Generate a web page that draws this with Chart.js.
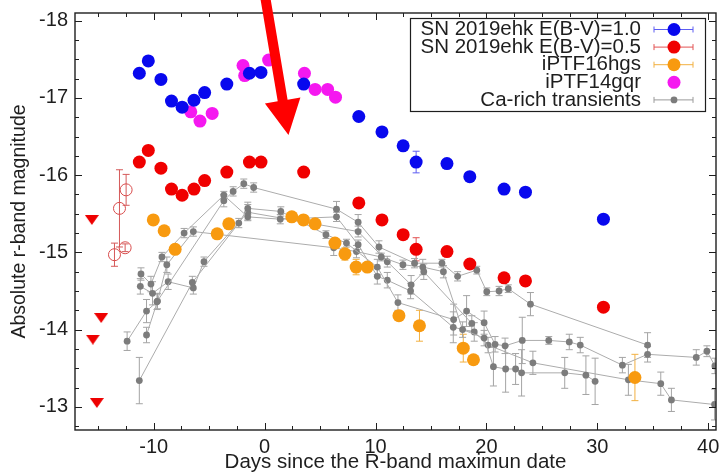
<!DOCTYPE html>
<html>
<head>
<meta charset="utf-8">
<script src="https://cdn.jsdelivr.net/npm/chart.js@4/dist/chart.umd.min.js"></script>
<style>
  html, body { margin: 0; background: #fff; }
</style>
</head>
<body>
<canvas id="lc" width="723" height="475"></canvas>
<script>
// ── SN 2019ehk (same epochs, two extinction corrections) ─────
const ehkDays  = [-11.30, -10.49, -9.35, -8.40, -7.44, -6.37, -5.41, -3.41, -1.37, -0.33, 3.52, 8.49, 10.58, 12.49, 13.66, 16.44, 18.50, 21.59, 23.52, 30.55];
const ehkMag10 = [-17.32, -17.48, -17.24, -16.96, -16.88, -16.97, -17.07, -17.18, -17.32, -17.33, -17.18, -16.76, -16.56, -16.38, -16.17, -16.15, -15.98, -15.82, -15.78, -15.43];
const ehkErr10 = [0, 0, 0, 0, 0, 0, 0, 0, 0, 0, 0, 0, 0, 0, 0.14, 0, 0, 0, 0, 0];
const ehkMag05 = [-16.17, -16.32, -16.09, -15.82, -15.74, -15.82, -15.93, -16.04, -16.17, -16.17, -16.04, -15.64, -15.42, -15.23, -15.04, -15.01, -14.85, -14.67, -14.63, -14.29];
const ehkErr05 = [0, 0, 0, 0, 0, 0, 0, 0, 0, 0, 0, 0, 0, 0, 0.15, 0, 0, 0, 0, 0];

// early detections (open) and non-detection limits
const earlyDays = [-13.09, -12.49, -13.54, -12.58];
const earlyMag  = [-15.57, -15.81, -14.97, -15.06];
const earlyErr  = [0.50, 0.20, 0.15, 0.05];
const limDays   = [-15.58, -14.74, -15.49, -15.13];
const limMag    = [-15.42, -14.15, -13.87, -13.05];

// ── comparison objects ───────────────────────────────────────
const hgsDays = [-10.04, -9.06, -8.07, -4.28, -3.23, 2.45, 3.50, 4.55, 6.34, 7.24, 8.25, 9.26, 12.11, 13.96, 17.91, 18.83, 33.39];
const hgsMag  = [-15.42, -15.28, -15.04, -15.24, -15.37, -15.46, -15.42, -15.37, -15.12, -14.98, -14.81, -14.81, -14.18, -14.05, -13.76, -13.61, -13.38];
const hgsErr  = [0.05, 0.05, 0.06, 0.05, 0.05, 0.05, 0.06, 0.05, 0.05, 0.08, 0.10, 0.05, 0.06, 0.20, 0.18, 0.05, 0.30];

const gqrDays = [-6.66, -5.83, -4.73, -1.95, -1.80, 0.36, 3.59, 4.55, 5.68, 6.39];
const gqrMag  = [-16.82, -16.70, -16.80, -17.42, -17.29, -17.49, -17.32, -17.11, -17.11, -17.01];

// ── Ca-rich transients, one light curve each ─────────────────
const caDays1 = [-12.40, -10.65, -9.71, -3.68, -2.84, -1.88, -0.99, 6.48, 8.43, 10.31, 13.52, 15.99, 17.40, 19.13, 20.03, 21.14, 21.97, 23.97, 34.53];
const caMag1  = [-13.85, -14.24, -14.36, -15.67, -15.79, -15.89, -15.84, -15.56, -15.39, -15.07, -14.86, -14.86, -14.69, -14.77, -14.49, -14.50, -14.53, -14.33, -13.80];
const caErr1  = [0.12, 0.15, 0.10, 0.08, 0.06, 0.06, 0.06, 0.10, 0.10, 0.08, 0.06, 0.05, 0.06, 0.05, 0.05, 0.06, 0.05, 0.15, 0.16];

const caDays2 = [-11.30, -6.52, -2.33, -1.52, 1.46, 5.53, 7.38, 10.16, 12.02, 17.04, 18.21, 19.79, 20.78, 21.68, 23.23, 25.62, 27.47, 28.46, 32.26, 34.53, 38.92, 39.88, 40.60];
const caMag2  = [-13.34, -14.61, -15.38, -15.57, -15.53, -15.23, -15.12, -14.81, -14.35, -14.13, -14.24, -14.09, -13.81, -13.79, -13.86, -13.86, -13.84, -13.80, -13.54, -13.68, -13.64, -13.72, -13.53];
const caErr2  = [0.30, 0.08, 0.06, 0.08, 0.06, 0.05, 0.05, 0.10, 0.10, 0.20, 0.20, 0.15, 0.10, 0.10, 0.30, 0.05, 0.10, 0.10, 0.10, 0.10, 0.10, 0.07, 0.10];

const caDays3 = [-10.65, -9.66, -8.82, -6.43, 6.23, 8.28, 10.52, 12.47, 14.26, 16.12, 17.85, 19.79, 20.63, 21.73, 22.63, 23.17, 27.06, 28.97, 29.80];
const caMag3  = [-13.93, -14.37, -14.84, -15.27, -15.06, -15.01, -14.94, -14.84, -14.81, -14.75, -14.00, -13.89, -13.52, -13.49, -13.49, -13.44, -13.44, -13.41, -13.33];
const caErr3  = [0.10, 0.10, 0.10, 0.06, 0.10, 0.08, 0.05, 0.06, 0.10, 0.08, 0.10, 0.10, 0.25, 0.30, 0.20, 0.30, 0.20, 0.25, 0.30];

const caDays4 = [-11.15, -10.25, -9.26, -7.26, -3.68, -1.52, 1.41, 6.48, 8.43, 10.16, 11.06, 13.16, 17.01, 18.90, 20.15, 24.19, 32.80, 35.72, 36.68, 40.57];
const caMag4  = [-14.72, -14.59, -14.94, -15.25, -15.74, -15.46, -15.43, -15.46, -15.10, -14.69, -14.64, -14.50, -14.03, -13.97, -13.80, -13.57, -13.35, -13.30, -13.09, -13.03];
const caErr4  = [0.08, 0.10, 0.06, 0.06, 0.05, 0.05, 0.06, 0.06, 0.06, 0.10, 0.10, 0.10, 0.20, 0.12, 0.10, 0.15, 0.20, 0.15, 0.15, 0.20];

const caDays5 = [-11.21, -10.11, -8.70, -6.43, -5.47, -1.52, 8.43, 11.06, 13.21, 14.35, 18.68];
const caMag5  = [-14.56, -14.47, -14.62, -14.54, -14.88, -15.52, -15.27, -14.88, -14.58, -14.75, -14.08];
const caErr5  = [0.10, 0.15, 0.10, 0.08, 0.06, 0.10, 0.07, 0.07, 0.12, 0.10, 0.10];

// annotation arrow, tail -> tip in data units
const arrowTail = { x: 0.06, y: -18.30 };
const arrowTip  = { x: 2.15, y: -16.52 };

const FONT = "'Liberation Sans', Arial, Helvetica, sans-serif";
const INK = '#1e1e1e';
Chart.defaults.font.family = FONT;
Chart.defaults.color = INK;

const pts = (xs, ys) => xs.map((x, i) => ({ x, y: ys[i] }));

// flat down-pointing triangle for upper limits
function triMark(w, h, col) {
  const c = document.createElement('canvas');
  c.width = w; c.height = h;
  const g = c.getContext('2d');
  g.fillStyle = col;
  g.beginPath(); g.moveTo(0, 0); g.lineTo(w, 0); g.lineTo(w / 2, h); g.closePath(); g.fill();
  return c;
}

function dot(label, xs, ys, errs, col, barCol, order, legend) {
  return {
    label, data: pts(xs, ys), errY: errs, errColor: barCol, capW: 3.5,
    pointRadius: 6.5, pointHoverRadius: 6.5, pointBackgroundColor: col, pointBorderWidth: 0,
    showLine: false, order, clip: 0, inLegend: legend, legendBar: barCol
  };
}

function caCurve(xs, ys, errs, legend) {
  return {
    label: 'Ca-rich transients', data: pts(xs, ys), errY: errs, errColor: '#a4a4a4', capW: 3.5,
    pointRadius: 3.4, pointHoverRadius: 3.4, pointBackgroundColor: '#7c7c7c', pointBorderWidth: 0,
    showLine: true, borderColor: '#acacac', borderWidth: 1, tension: 0,
    order: 6, clip: 0, inLegend: legend, legendBar: '#9a9a9a'
  };
}

const datasets = [
  dot('SN 2019ehk E(B-V)=1.0', ehkDays, ehkMag10, ehkErr10, '#0808ee', '#5c5cf2', 1, true),
  dot('SN 2019ehk E(B-V)=0.5', ehkDays, ehkMag05, ehkErr05, '#f00000', '#e25252', 2, true),
  dot('iPTF16hgs', hgsDays, hgsMag, hgsErr, '#f89a10', '#f2b040', 3, true),
  dot('iPTF14gqr', gqrDays, gqrMag, null, '#f518f0', null, 2, true),
  {
    label: 'early', data: pts(earlyDays, earlyMag), errY: earlyErr, errColor: '#d55a5a', capW: 3.5,
    pointRadius: 6, pointBackgroundColor: 'rgba(0,0,0,0)', pointBorderColor: '#d84c4c', pointBorderWidth: 1,
    showLine: false, order: 3, clip: 0
  },
  {
    label: 'limits', data: pts(limDays, limMag), pointStyle: triMark(14, 10, '#ee0000'),
    showLine: false, order: 3, clip: 0
  },
  caCurve(caDays1, caMag1, caErr1, true),
  caCurve(caDays2, caMag2, caErr2, false),
  caCurve(caDays3, caMag3, caErr3, false),
  caCurve(caDays4, caMag4, caErr4, false),
  caCurve(caDays5, caMag5, caErr5, false)
];

// ── vertical error bars with caps ────────────────────────────
const errorBars = {
  id: 'errorBars',
  beforeDatasetsDraw(chart) {
    const { ctx, chartArea: a, scales: { y } } = chart;
    ctx.save();
    ctx.beginPath(); ctx.rect(a.left, a.top, a.right - a.left, a.bottom - a.top); ctx.clip();
    ctx.lineWidth = 1;
    chart.data.datasets.forEach((ds, i) => {
      if (!ds.errY) return;
      const meta = chart.getDatasetMeta(i);
      ctx.strokeStyle = ds.errColor;
      meta.data.forEach((el, j) => {
        const e = ds.errY[j];
        if (!e) return;
        const v = ds.data[j].y, cw = ds.capW;
        const y1 = y.getPixelForValue(v - e), y2 = y.getPixelForValue(v + e);
        ctx.beginPath();
        ctx.moveTo(el.x, y1); ctx.lineTo(el.x, y2);
        ctx.moveTo(el.x - cw, y1); ctx.lineTo(el.x + cw, y1);
        ctx.moveTo(el.x - cw, y2); ctx.lineTo(el.x + cw, y2);
        ctx.stroke();
      });
    });
    ctx.restore();
  }
};

// ── box frame with inward major/minor ticks on all four sides ──
const frameTicks = {
  id: 'frameTicks',
  afterDatasetsDraw(chart) {
    const { ctx, chartArea: a, scales: { x, y } } = chart;
    ctx.save();
    ctx.strokeStyle = INK;
    ctx.lineWidth = 1;
    ctx.beginPath();
    for (let k = -6; k <= 16; k++) {
      const v = k * 2.5, px = Math.round(x.getPixelForValue(v)) + 0.5;
      const len = v % 10 === 0 ? 7 : 4;
      ctx.moveTo(px, a.bottom); ctx.lineTo(px, a.bottom - len);
      ctx.moveTo(px, a.top); ctx.lineTo(px, a.top + len);
    }
    for (let k = -72; k <= -51; k++) {
      const v = k / 4, py = Math.round(y.getPixelForValue(v)) + 0.5;
      const len = Number.isInteger(v) ? 7 : 4;
      ctx.moveTo(a.left, py); ctx.lineTo(a.left + len, py);
      ctx.moveTo(a.right, py); ctx.lineTo(a.right - len, py);
    }
    ctx.stroke();
    ctx.lineWidth = 1.4;
    ctx.strokeRect(a.left, a.top, a.right - a.left, a.bottom - a.top);
    ctx.restore();
  }
};

// ── legend: right-aligned labels, marker with error bar on the right ──
const legendBox = {
  id: 'legendBox',
  afterDraw(chart) {
    const { ctx, chartArea: a } = chart;
    const rows = chart.data.datasets.filter(d => d.inLegend);
    const right = a.right - 11, top = a.top + 5, w = 295, h = 93;
    ctx.save();
    ctx.fillStyle = '#fff';
    ctx.fillRect(right - w, top, w, h);
    ctx.strokeStyle = INK; ctx.lineWidth = 1.2;
    ctx.strokeRect(right - w + 0.5, top + 0.5, w, h);
    ctx.font = '20.5px ' + FONT;
    ctx.textAlign = 'right'; ctx.textBaseline = 'middle';
    rows.forEach((d, i) => {
      const cy = top + 11.5 + i * 17.6;
      ctx.fillStyle = INK;
      ctx.fillText(d.label, right - 64, cy);
      const sx = right - 31;
      if (d.legendBar) {
        ctx.strokeStyle = d.legendBar; ctx.lineWidth = 1;
        ctx.beginPath();
        ctx.moveTo(right - 51, cy); ctx.lineTo(right - 12, cy);
        ctx.moveTo(right - 51, cy - 3); ctx.lineTo(right - 51, cy + 3);
        ctx.moveTo(right - 12, cy - 3); ctx.lineTo(right - 12, cy + 3);
        ctx.stroke();
      }
      ctx.fillStyle = d.pointBackgroundColor;
      ctx.beginPath(); ctx.arc(sx, cy, d.pointRadius, 0, Math.PI * 2); ctx.fill();
    });
    ctx.restore();
  }
};

// ── red annotation arrow ─────────────────────────────────────
const pointer = {
  id: 'pointer',
  afterDraw(chart) {
    const { ctx, scales: { x, y } } = chart;
    const x0 = x.getPixelForValue(arrowTail.x), y0 = y.getPixelForValue(arrowTail.y);
    const x1 = x.getPixelForValue(arrowTip.x), y1 = y.getPixelForValue(arrowTip.y);
    const ang = Math.atan2(y1 - y0, x1 - x0), len = Math.hypot(x1 - x0, y1 - y0);
    const headL = 35, headW = 18, shaftW = 5;
    ctx.save();
    ctx.translate(x0, y0); ctx.rotate(ang);
    ctx.fillStyle = '#ff0000';
    ctx.beginPath();
    ctx.moveTo(0, -shaftW); ctx.lineTo(len - headL, -shaftW); ctx.lineTo(len - headL, -headW);
    ctx.lineTo(len, 0);
    ctx.lineTo(len - headL, headW); ctx.lineTo(len - headL, shaftW); ctx.lineTo(0, shaftW);
    ctx.closePath(); ctx.fill();
    ctx.restore();
  }
};

new Chart(document.getElementById('lc'), {
  type: 'scatter',
  data: { datasets },
  plugins: [errorBars, frameTicks, legendBox, pointer],
  options: {
    responsive: false, animation: false, devicePixelRatio: 1,
    layout: { padding: { top: 13, right: 3, left: 0, bottom: 0 } },
    plugins: { legend: { display: false }, tooltip: { enabled: false } },
    scales: {
      x: {
        type: 'linear', min: -17.1, max: 40.7,
        ticks: { stepSize: 10, includeBounds: false, padding: 5, font: { size: 20 }, color: INK, callback: v => v },
        grid: { display: false, drawTicks: false }, border: { display: false },
        title: { display: true, text: 'Days since the R-band maximun date', font: { size: 20.5 }, color: INK, padding: { top: 0, bottom: 0 } },
        afterFit: s => { s.height = 45; s.paddingLeft = 0; s.paddingRight = 0; }
      },
      y: {
        type: 'linear', reverse: true, min: -18.1, max: -12.7,
        ticks: { stepSize: 1, includeBounds: false, padding: 7, font: { size: 20 }, color: INK, callback: v => v },
        grid: { display: false, drawTicks: false }, border: { display: false },
        title: { display: true, text: 'Absolute r-band magnitude', font: { size: 19.5 }, color: INK, padding: { top: 8, bottom: 0 } },
        afterFit: s => { s.width = 75; s.paddingTop = 0; s.paddingBottom = 0; }
      }
    }
  }
});
</script>
</body>
</html>
